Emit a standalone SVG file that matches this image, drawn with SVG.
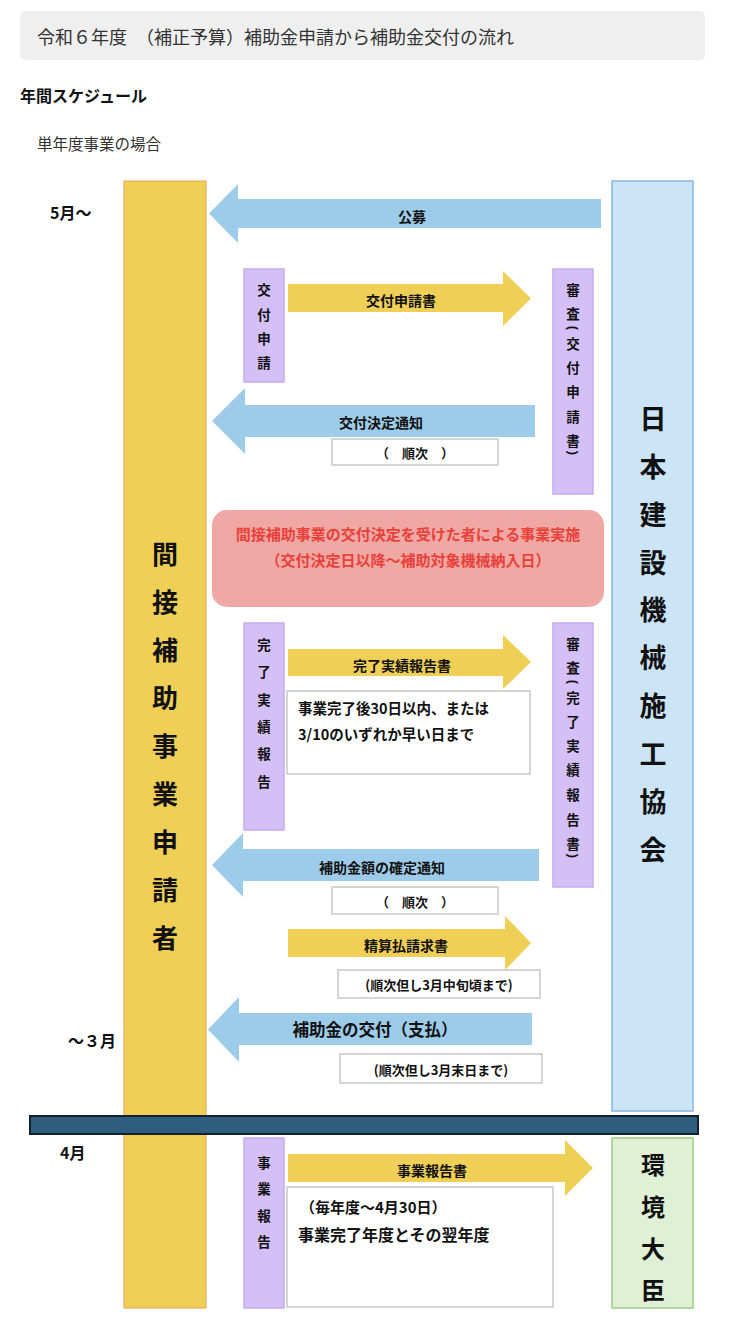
<svg xmlns="http://www.w3.org/2000/svg" width="746" height="1341" viewBox="0 0 746 1341">
<style>
text{font-family:"Noto Sans CJK JP","Noto Sans",sans-serif;fill:#111;}
.b{font-weight:700;}
.c{text-anchor:middle;dominant-baseline:central;}
.blue{fill:#9dcbea;}
.yel{fill:#efcf55;}
.pur{fill:#d4bff7;stroke:#c4aeea;stroke-width:1.5;}
.wbox{fill:#fff;stroke:#c8c8c8;stroke-width:1.5;}
.lbl{font-size:14px;font-weight:700;}
.vch{font-size:13.5px;font-weight:700;}
.par{font-family:"Liberation Sans",sans-serif;font-size:13px;font-weight:700;}
</style>
<rect width="746" height="1341" fill="#fff"/>
<!-- header -->
<g id="header">
<rect x="20" y="11" width="685" height="49" rx="5" fill="#efefef"/>
<text x="37" y="44" font-size="18" style="fill:#333">令和６年度　（補正予算）補助金申請から補助金交付の流れ</text>
<text x="20" y="102" font-size="16" class="b">年間スケジュール</text>
<text x="37" y="150" font-size="15.5" style="fill:#333">単年度事業の場合</text>
</g>
<!-- month labels -->
<g id="months" class="b" font-size="16">
<text x="50" y="219">5月〜</text>
<text x="68" y="1047">〜３月</text>
<text x="60" y="1159">4月</text>
</g>
<!-- applicant column -->
<g id="applicant">
<rect x="124" y="181" width="82" height="1127" fill="#efcf55" stroke="#e6a24a" stroke-width="1"/>
<g class="c b" font-size="26">
<text x="165" y="552">間</text><text x="165" y="600">接</text><text x="165" y="648">補</text><text x="165" y="696">助</text><text x="165" y="744">事</text><text x="165" y="792">業</text><text x="165" y="840">申</text><text x="165" y="888">請</text><text x="165" y="936">者</text>
</g>
</g>
<!-- association column -->
<g id="association">
<rect x="612" y="181" width="81" height="930" fill="#cbe4f6" stroke="#86b6e0" stroke-width="1.5"/>
<g class="c b" font-size="27">
<text x="653" y="417">日</text><text x="653" y="465">本</text><text x="653" y="513">建</text><text x="653" y="561">設</text><text x="653" y="608">機</text><text x="653" y="656">械</text><text x="653" y="704">施</text><text x="653" y="752">工</text><text x="653" y="800">協</text><text x="653" y="848">会</text>
</g>
</g>
<!-- minister -->
<g id="minister">
<rect x="612" y="1138" width="81" height="170" fill="#dff0d4" stroke="#9ccc80" stroke-width="1.5"/>
<g class="c b" font-size="24">
<text x="653" y="1163">環</text><text x="653" y="1205">境</text><text x="653" y="1247">大</text><text x="653" y="1288">臣</text>
</g>
</g>
<!-- purple step boxes -->
<g id="step-apply">
<rect class="pur" x="244" y="269" width="40" height="113"/>
<g class="c vch"><text x="264" y="289">交</text><text x="264" y="314">付</text><text x="264" y="338">申</text><text x="264" y="362">請</text></g>
</g>
<g id="review-apply">
<rect class="pur" x="553" y="269" width="40" height="225"/>
<g class="c vch"><text x="573" y="289">審</text><text x="573" y="313">査</text><text x="573" y="343">交</text><text x="573" y="367">付</text><text x="573" y="391">申</text><text x="573" y="416">請</text><text x="573" y="440">書</text></g>
<text class="c par" x="573" y="328" transform="rotate(90 573 328)">(</text>
<text class="c par" x="573" y="453" transform="rotate(90 573 453)">)</text>
</g>
<g id="step-complete">
<rect class="pur" x="244" y="623" width="40" height="207"/>
<g class="c vch"><text x="264" y="644">完</text><text x="264" y="671">了</text><text x="264" y="699">実</text><text x="264" y="726">績</text><text x="264" y="753">報</text><text x="264" y="781">告</text></g>
</g>
<g id="review-complete">
<rect class="pur" x="553" y="623" width="40" height="264"/>
<g class="c vch"><text x="573" y="643">審</text><text x="573" y="667">査</text><text x="573" y="697">完</text><text x="573" y="721">了</text><text x="573" y="745">実</text><text x="573" y="769">績</text><text x="573" y="794">報</text><text x="573" y="819">告</text><text x="573" y="843">書</text></g>
<text class="c par" x="573" y="682" transform="rotate(90 573 682)">(</text>
<text class="c par" x="573" y="856" transform="rotate(90 573 856)">)</text>
</g>
<g id="step-report">
<rect class="pur" x="244" y="1138" width="40" height="170"/>
<g class="c vch"><text x="264" y="1162">事</text><text x="264" y="1188">業</text><text x="264" y="1215">報</text><text x="264" y="1241">告</text></g>
</g>
<!-- implementation box -->
<g id="implementation">
<rect x="212" y="510" width="392" height="97" rx="15" fill="#f0a8a4"/>
<g class="c b" font-size="15">
<text x="408" y="533" style="fill:#e8413a">間接補助事業の交付決定を受けた者による事業実施</text>
<text x="408" y="559" style="fill:#e8413a">（交付決定日以降〜補助対象機械納入日）</text>
</g>
</g>
<!-- connectors -->
<g id="connectors">
<polygon class="blue" points="209,213.5 238,184 238,199 601,199 601,228 238,228 238,243"/>
<polygon class="yel" points="288,284 503,284 503,271 531,298.5 503,326 503,312 288,312"/>
<polygon class="blue" points="212,421 245,388 245,405 535,405 535,437 245,437 245,454"/>
<polygon class="yel" points="288,649 503,649 503,635 531,662 503,689 503,676 288,676"/>
<polygon class="blue" points="212,865 243,833 243,849 539,849 539,881 243,881 243,897"/>
<polygon class="yel" points="288,929 505,929 505,916 531,943 505,970 505,957 288,957"/>
<polygon class="blue" points="208,1029.5 239,997 239,1013 532,1013 532,1045 239,1045 239,1062"/>
<polygon class="yel" points="288,1154 565,1154 565,1140 593,1168 565,1196 565,1182 288,1182"/>
<g class="c lbl">
<text x="412" y="216">公募</text>
<text x="401" y="300">交付申請書</text>
<text x="381" y="422">交付決定通知</text>
<text x="402" y="665">完了実績報告書</text>
<text x="382" y="867">補助金額の確定通知</text>
<text x="406" y="945">精算払請求書</text>
<text x="375" y="1029" font-size="16.5">補助金の交付（支払）</text>
<text x="432" y="1170">事業報告書</text>
</g>
</g>
<!-- note boxes -->
<g id="note-order1">
<rect class="wbox" x="332" y="439" width="166" height="26"/>
<text class="c b" x="415" y="452" font-size="13">（　順次　）</text>
</g>
<g id="note-30days">
<rect class="wbox" x="287" y="691" width="243" height="83"/>
<text class="b" x="298" y="714" font-size="14.5">事業完了後30日以内、または</text>
<text class="b" x="298" y="740" font-size="14.5">3/10のいずれか早い日まで</text>
</g>
<g id="note-order2">
<rect class="wbox" x="332" y="887" width="166" height="27"/>
<text class="c b" x="415" y="901" font-size="13">（　順次　）</text>
</g>
<g id="note-mid-march">
<rect class="wbox" x="338" y="970" width="202" height="28"/>
<text class="c b" x="439" y="984" font-size="13">(順次但し3月中旬頃まで)</text>
</g>
<g id="note-end-march">
<rect class="wbox" x="340" y="1054" width="202" height="29"/>
<text class="c b" x="441" y="1069" font-size="13">(順次但し3月末日まで)</text>
</g>
<g id="note-annual">
<rect class="wbox" x="287" y="1187" width="266" height="120"/>
<text class="b" x="300" y="1213" font-size="15">（毎年度〜4月30日）</text>
<text class="b" x="298" y="1241" font-size="16">事業完了年度とその翌年度</text>
</g>
<!-- fiscal year divider -->
<g id="divider">
<rect x="30" y="1116" width="668" height="18" fill="#2f5d7e" stroke="#10202c" stroke-width="2"/>
</g>
</svg>
